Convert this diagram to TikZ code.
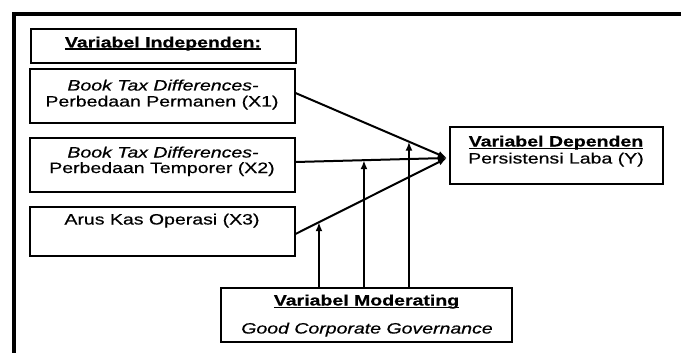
\documentclass[tikz,border=0pt]{standalone}
\usepackage{fontspec}
\setmainfont[FakeStretch=1.3,FakeBold=0.5]{Liberation Sans}
\usetikzlibrary{arrows.meta}
\newcommand\ulx[1]{\setbox0\hbox{#1}\rlap{\rule[-2.4pt]{\wd0}{1.4pt}}\box0}
\begin{document}
\begin{tikzpicture}[x=1pt,y=-1pt,
  box/.style={draw, line width=2pt, inner sep=0pt},
  txt/.style={anchor=base, inner sep=0pt, font=\fontsize{15}{17}\selectfont},
  conn/.style={line width=2pt, -{Latex[length=9pt,width=7pt]}}]
\useasboundingbox (0,0) rectangle (681,353);
\fill[white] (0,0) rectangle (681,353);
% frame
\draw[line width=4pt, line join=miter] (13.7,353) -- (13.7,13.8) -- (681,13.8);
% boxes
\node[box, minimum width=265pt, minimum height=34pt] (hdr) at (163,46.5) {};
\node[box, minimum width=265pt, minimum height=54pt] (x1) at (162,96.5) {};
\node[box, minimum width=265pt, minimum height=53pt] (x2) at (162,165) {};
\node[box, minimum width=265pt, minimum height=49pt] (x3) at (162,231) {};
\node[box, minimum width=213pt, minimum height=56pt] (dep) at (556,155.5) {};
\node[box, minimum width=291pt, minimum height=54pt] (mod) at (366,314.5) {};
% texts
\node[txt] (hdrt) at (163,47.5) {\ulx{\bfseries Variabel Independen:}};
\node[txt] (x1a) at (163,90.5) {\itshape Book Tax Differences-};
\node[txt] (x1b) at (162,106.5) {Perbedaan Permanen (X1)};
\node[txt] (x2a) at (163,157.5) {\itshape Book Tax Differences-};
\node[txt] (x2b) at (162,173) {Perbedaan Temporer (X2)};
\node[txt] (x3a) at (162,224.5) {Arus Kas Operasi (X3)};
\node[txt] (dept) at (556,146.5) {\ulx{\bfseries Variabel Dependen}};
\node[txt] (depb) at (556,163.5) {Persistensi Laba (Y)};
\node[txt] (modt) at (366.5,305.5) {\ulx{\bfseries Variabel Moderating}};
\node[txt] (modb) at (367,333.5) {\itshape Good Corporate Governance};
% connectors
\coordinate (c) at (447,158);
\draw[conn] ([yshift=3.5pt]x1.east) -- coordinate[pos=0.749] (p1) (c);
\draw[conn] ([yshift=3pt]x2.east) -- coordinate[pos=0.452] (p2) (c);
\draw[conn] ([yshift=-3pt]x3.east) -- coordinate[pos=0.155] (p3) (c);
\draw[conn] (mod.north -| p1) -- (p1);
\draw[conn] (mod.north -| p2) -- (p2);
\draw[conn] (mod.north -| p3) -- (p3);
\end{tikzpicture}
\end{document}
